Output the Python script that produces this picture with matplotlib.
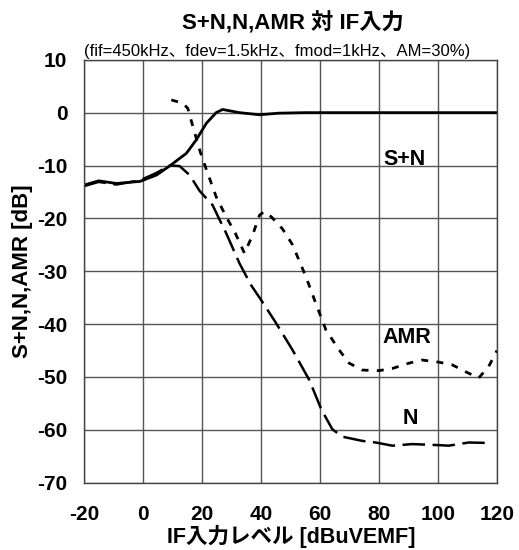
import matplotlib
matplotlib.use("Agg")
import matplotlib.pyplot as plt

plt.rcParams['font.family'] = ['Liberation Sans', 'Noto Sans CJK JP']
plt.rcParams['axes.unicode_minus'] = False

# IF input level [dBuVEMF] vs level [dB]
sn_x = [-20, -15, -9, -1, 4.6, 9, 14.7, 18, 21.5, 24.8, 27, 32.7, 39.5, 46, 55, 60, 80, 100, 120]
sn_y = [-13.7, -12.9, -13.4, -13.0, -11.8, -10.1, -7.7, -5.2, -2.0, 0.0, 0.6, 0.0, -0.4, -0.1, 0.0, 0.0, 0.0, 0.0, 0.0]

n_x = [-20, -15, -9, -1, 4.6, 9, 12.4, 15.8, 19.2, 23.6, 26, 28.2, 32.7, 36.6, 40, 45.1, 50.7,
       56.4, 60.5, 64.2, 67.6, 74.4, 78.9, 84.5, 91.3, 100.3, 103.6, 110.4, 118.3]
n_y = [-13.9, -13.1, -13.6, -12.8, -11.4, -10.0, -10.1, -11.8, -14.8, -17.5, -20.3, -22.8, -28.5,
       -32.6, -35.4, -39.8, -44.9, -50.6, -56.2, -59.9, -61.3, -62.1, -62.4, -63.0, -62.7, -62.9,
       -63.0, -62.4, -62.5]

amr_x = [9.6, 13.5, 15.2, 16.9, 19.4, 21.5, 24.8, 28.2, 31.3, 34.4, 37.2, 39.5, 41.1, 43.5, 47.3,
         50.7, 55.2, 58.6, 62, 66.5, 69.9, 74.4, 80, 84.5, 90.1, 94.6, 100.3, 104.8, 109.3, 113.8,
         117.2, 120]
amr_y = [2.4, 1.8, 0.8, -2.6, -7.4, -10.8, -15.9, -19.7, -22.8, -26.6, -23.1, -19.4, -18.7, -19.7,
         -22.0, -25.0, -31.0, -36.1, -41.1, -44.9, -47.4, -48.7, -48.8, -48.4, -47.4, -46.8, -47.2,
         -47.7, -49.0, -50.2, -48.0, -45.0]

xticks = list(range(-20, 121, 20))
yticks = list(range(-70, 11, 10))

fig = plt.figure(figsize=(5.19, 5.5), dpi=100)
ax = fig.add_axes([0.1618, 0.1224, 0.7958, 0.7689])

ax.plot(sn_x, sn_y, color="black", lw=2.0)
ax.plot(n_x, n_y, color="black", lw=1.8, dashes=(9, 3))
ax.plot(amr_x, amr_y, color="black", lw=2.0, dashes=(2.5, 3))

ax.set_xlim(-20, 120)
ax.set_ylim(-70, 10)
ax.set_xticks(xticks)
ax.set_yticks(yticks)
ax.grid(True, color="#555555", lw=1.0)
ax.set_axisbelow(True)
ax.tick_params(length=0, labelsize=15)
ax.tick_params(axis="x", pad=16)
ax.tick_params(axis="y", pad=12)
for lab in ax.get_xticklabels() + ax.get_yticklabels():
    lab.set_fontweight("bold")
for sp in ax.spines.values():
    sp.set_color("#444444")
    sp.set_linewidth(1.0)

ax.text(88.5, -8.9, "S+N", fontsize=15.5, fontweight="bold", ha="center", va="center")
ax.text(89.5, -42.6, "AMR", fontsize=15.5, fontweight="bold", ha="center", va="center")
ax.text(90.5, -57.8, "N", fontsize=15.5, fontweight="bold", ha="center", va="center")

ax.set_xlabel("IF入力レベル [dBuVEMF]", fontsize=15.5, fontweight="bold", va="center")
ax.xaxis.set_label_coords(0.503, -0.128)
ax.set_ylabel("S+N,N,AMR [dB]", fontsize=16, fontweight="bold", va="center")
ax.yaxis.set_label_coords(-0.15, 0.5)

fig.text(0.5636, 0.958, "S+N,N,AMR 対 IF入力", fontsize=16, fontweight="bold",
         ha="center", va="center")
fig.text(0.533, 0.907, "(fif=450kHz、fdev=1.5kHz、fmod=1kHz、AM=30%)", fontsize=12,
         ha="center", va="center")

fig.savefig("out.png", dpi=100)
